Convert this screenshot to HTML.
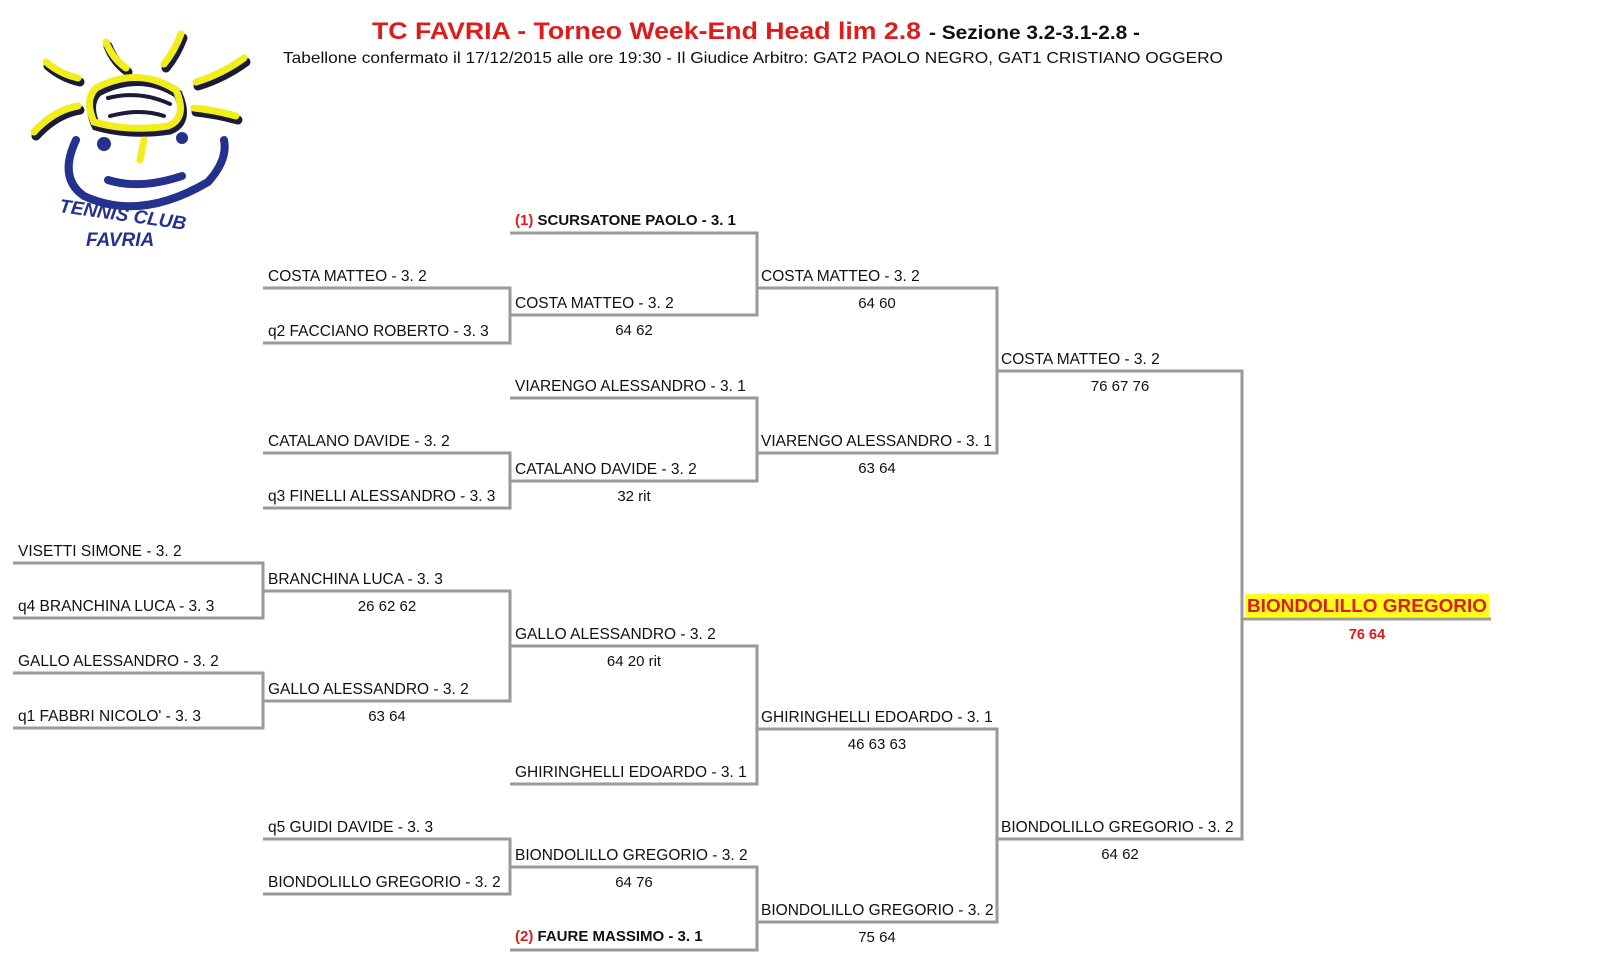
<!DOCTYPE html>
<html><head><meta charset="utf-8"><style>
html,body{margin:0;padding:0;background:#fff;}
svg{display:block;}
text{font-family:"Liberation Sans",Arial,sans-serif;}
.n{font-size:15.5px;fill:#111;}
.b{font-size:15px;fill:#111;font-weight:bold;}
.s{font-size:15px;fill:#111;text-anchor:middle;}
</style></head><body>
<svg width="1600" height="962" viewBox="0 0 1600 962" xmlns="http://www.w3.org/2000/svg">
<!-- logo -->
<g stroke-linecap="round" fill="none">
 <g stroke="#1a1a3a" stroke-width="9">
  <path d="M48 66 Q62 78 80 82"/><path d="M108 46 Q114 62 128 72"/><path d="M183 38 Q176 56 166 68"/>
  <path d="M246 62 Q224 78 198 86"/><path d="M36 136 Q56 114 80 110"/><path d="M238 120 Q216 114 196 112"/>
  <path d="M98 92 Q140 70 178 94 Q190 122 170 130 Q130 136 96 126 Q86 104 98 92"/>
 </g>
 <g stroke="#f2ee1c" stroke-width="7">
  <path d="M46 62 Q60 74 78 78"/><path d="M106 42 Q112 58 126 68"/><path d="M181 34 Q174 52 164 64"/>
  <path d="M244 58 Q222 74 196 82"/><path d="M34 132 Q54 110 78 106"/><path d="M236 116 Q214 110 194 108"/>
  <path d="M96 88 Q138 66 176 90 Q188 118 168 126 Q128 132 94 122 Q84 100 96 88"/>
  <path d="M108 98 Q140 90 170 104" stroke="#1a1a3a" stroke-width="4"/>
  <path d="M110 116 Q140 108 164 116" stroke="#1a1a3a" stroke-width="4"/>
  <path d="M144 140 L140 160"/>
 </g>
 <g stroke="#24318f" stroke-width="8">
  <path d="M76 140 Q58 178 84 196 Q140 222 208 182 Q228 160 224 140"/>
  <path d="M108 180 Q140 190 182 176"/>
 </g>
 <circle cx="104" cy="144" r="7" fill="#24318f"/><circle cx="182" cy="138" r="6" fill="#24318f"/>
</g>
<text x="58" y="222" font-size="19" font-weight="bold" font-style="italic" fill="#24318f" transform="rotate(8 130 222)">TENNIS CLUB</text>
<text x="86" y="246" font-size="19" font-weight="bold" font-style="italic" fill="#24318f">FAVRIA</text>

<!-- title -->
<text x="372" y="39" font-size="24" font-weight="bold" fill="#e01b1b" textLength="549" lengthAdjust="spacingAndGlyphs">TC FAVRIA - Torneo Week-End Head lim 2.8</text>
<text x="929" y="39" font-size="19" font-weight="bold" fill="#111" textLength="211" lengthAdjust="spacingAndGlyphs">- Sezione 3.2-3.1-2.8 -</text>
<text x="283" y="63" font-size="16" fill="#111" textLength="940" lengthAdjust="spacingAndGlyphs">Tabellone confermato il 17/12/2015 alle ore 19:30 - Il Giudice Arbitro: GAT2 PAOLO NEGRO, GAT1 CRISTIANO OGGERO</text>

<!-- lines -->
<g stroke="#9a9a9a" stroke-width="3" fill="none">
 <path d="M13 563H263V618H13M13 673H263V728H13"/>
 <path d="M263 288H510V343H263M263 453H510V508H263M263 591H510V701H263M263 839H510V894H263"/>
 <path d="M510 233H757V315H510M510 398H757V481H510M510 646H757V784H510M510 867H757V950H510"/>
 <path d="M757 288H997V453H757M757 729H997V922H757"/>
 <path d="M997 371H1242V839H997"/>
 <path d="M1242 619H1491"/>
</g>

<!-- col0 -->
<text class="n" x="18" y="556">VISETTI SIMONE - 3. 2</text>
<text class="n" x="18" y="611">q4  BRANCHINA LUCA - 3. 3</text>
<text class="n" x="18" y="666">GALLO ALESSANDRO - 3. 2</text>
<text class="n" x="18" y="721">q1 FABBRI NICOLO' - 3. 3</text>
<!-- col1 -->
<text class="n" x="268" y="281">COSTA MATTEO - 3. 2</text>
<text class="n" x="268" y="336">q2  FACCIANO ROBERTO - 3. 3</text>
<text class="n" x="268" y="446">CATALANO DAVIDE - 3. 2</text>
<text class="n" x="268" y="501">q3 FINELLI ALESSANDRO - 3. 3</text>
<text class="n" x="268" y="584">BRANCHINA LUCA - 3. 3</text>
<text class="s" x="387" y="611">26 62 62</text>
<text class="n" x="268" y="694">GALLO ALESSANDRO - 3. 2</text>
<text class="s" x="387" y="721">63 64</text>
<text class="n" x="268" y="832">q5 GUIDI DAVIDE - 3. 3</text>
<text class="n" x="268" y="887">BIONDOLILLO GREGORIO - 3. 2</text>
<!-- col2 -->
<text class="b" x="515" y="225"><tspan fill="#e01b1b">(1)</tspan> SCURSATONE PAOLO - 3. 1</text>
<text class="n" x="515" y="308">COSTA MATTEO - 3. 2</text>
<text class="s" x="634" y="335">64 62</text>
<text class="n" x="515" y="391">VIARENGO ALESSANDRO - 3. 1</text>
<text class="n" x="515" y="474">CATALANO DAVIDE - 3. 2</text>
<text class="s" x="634" y="501">32 rit</text>
<text class="n" x="515" y="639">GALLO ALESSANDRO - 3. 2</text>
<text class="s" x="634" y="666">64 20 rit</text>
<text class="n" x="515" y="777">GHIRINGHELLI EDOARDO - 3. 1</text>
<text class="n" x="515" y="860">BIONDOLILLO GREGORIO - 3. 2</text>
<text class="s" x="634" y="887">64 76</text>
<text class="b" x="515" y="941"><tspan fill="#e01b1b">(2)</tspan> FAURE MASSIMO - 3. 1</text>
<!-- col3 -->
<text class="n" x="761" y="281">COSTA MATTEO - 3. 2</text>
<text class="s" x="877" y="308">64 60</text>
<text class="n" x="761" y="446">VIARENGO ALESSANDRO - 3. 1</text>
<text class="s" x="877" y="473">63 64</text>
<text class="n" x="761" y="722">GHIRINGHELLI EDOARDO - 3. 1</text>
<text class="s" x="877" y="749">46 63 63</text>
<text class="n" x="761" y="915">BIONDOLILLO GREGORIO - 3. 2</text>
<text class="s" x="877" y="942">75 64</text>
<!-- col4 -->
<text class="n" x="1001" y="364">COSTA MATTEO - 3. 2</text>
<text class="s" x="1120" y="391">76 67 76</text>
<text class="n" x="1001" y="832">BIONDOLILLO GREGORIO - 3. 2</text>
<text class="s" x="1120" y="859">64 62</text>
<!-- winner -->
<rect x="1245" y="594" width="244" height="23" fill="#ffff1a"/>
<text x="1247" y="612" font-size="18" font-weight="bold" fill="#e01b1b" textLength="240" lengthAdjust="spacingAndGlyphs">BIONDOLILLO GREGORIO</text>
<text x="1367" y="639" font-size="14.5" font-weight="bold" fill="#e01b1b" text-anchor="middle">76 64</text>
</svg>
</body></html>
